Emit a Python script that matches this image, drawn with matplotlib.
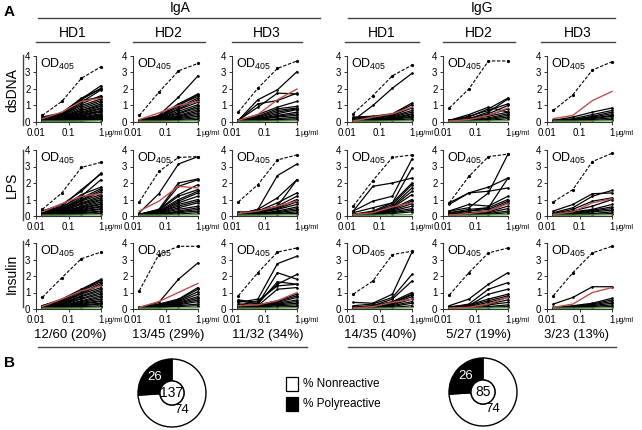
import matplotlib
matplotlib.use("Agg")
import matplotlib.pyplot as plt
from matplotlib.lines import Line2D
from matplotlib.patches import Wedge, Circle, Rectangle

plt.rcParams['font.family'] = ['Liberation Sans', 'DejaVu Sans']

# ---------------- data ----------------
conc = [0.0156, 0.0625, 0.25, 1.0]
isotypes = ["IgA", "IgG"]
donors = ["HD1", "HD2", "HD3"]
antigens = ["dsDNA", "LPS", "Insulin"]
fractions = ["12/60 (20%)", "13/45 (29%)", "11/32 (34%)",
             "14/35 (40%)", "5/27 (19%)", "3/23 (13%)"]

# positive control (dashed) per panel: IgA HD1..HD3, IgG HD1..HD3
pos_dsdna = [[0.4, 1.25, 2.65, 3.35], [0.4, 1.8, 3.1, 3.55], [0.6, 2.05, 3.25, 3.7],
             [0.5, 1.6, 2.8, 3.45], [0.85, 2.0, 3.7, 3.7], [0.7, 1.65, 3.15, 3.65]]
pos_lps = [[0.4, 1.4, 2.95, 3.25], [0.85, 2.7, 3.55, 3.6], [0.85, 1.9, 3.4, 3.7],
           [0.6, 2.15, 3.55, 3.7], [0.8, 2.4, 3.6, 3.75], [0.85, 1.6, 3.3, 3.8]]
pos_insulin = [[0.7, 1.9, 3.05, 3.45], [1.1, 3.3, 3.8, 3.8], [0.8, 2.2, 3.45, 3.7],
               [0.9, 1.7, 3.3, 3.5], [0.85, 2.2, 3.4, 3.7], [0.8, 2.2, 3.4, 3.8]]

# red reference line
red_dsdna = [[0.2, 0.6, 1.25, 1.45], [0.15, 0.55, 1.0, 1.25], [0.1, 0.45, 1.35, 2.0],
             [0.05, 0.3, 0.5, 0.9], [0.05, 0.15, 0.4, 0.85], [0.2, 0.4, 1.3, 1.85]]
red_lps = [[0.25, 0.75, 1.2, 1.35], [0.3, 0.9, 1.8, 1.7], [0.15, 0.3, 0.6, 0.9],
           [0.1, 0.2, 0.55, 0.8], [0.05, 0.15, 0.3, 0.75], [0.1, 0.25, 0.8, 1.05]]
red_insulin = [[0.15, 0.6, 1.1, 1.4], [0.1, 0.45, 1.0, 1.55], [0.2, 0.25, 0.5, 1.0],
               [0.05, 0.15, 0.4, 0.6], [0.05, 0.1, 0.3, 0.7], [0.1, 0.3, 1.0, 1.3]]

# green negative control
neg_ctrl = [0.05, 0.05, 0.06, 0.08]

# clones
clones_dsdna = [
    [[0.30,0.55,1.40,2.20],[0.25,0.50,1.35,2.05],[0.20,0.55,1.45,2.00],[0.20,0.45,1.20,1.95],
     [0.15,0.40,1.10,1.60],[0.20,0.45,1.30,1.50],[0.15,0.40,1.00,1.40],[0.10,0.35,0.90,1.30],
     [0.10,0.30,0.80,1.20],[0.10,0.30,0.70,1.10],[0.10,0.25,0.70,1.00],[0.10,0.25,0.60,0.95],
     [0.10,0.20,0.55,0.85],[0.10,0.20,0.50,0.80],[0.05,0.20,0.45,0.70],[0.05,0.15,0.40,0.65],
     [0.05,0.15,0.35,0.60],[0.05,0.15,0.30,0.50],[0.05,0.10,0.25,0.45],[0.05,0.10,0.20,0.40],
     [0.05,0.10,0.20,0.35],[0.05,0.10,0.15,0.30],[0.05,0.08,0.12,0.25],[0.05,0.08,0.10,0.20],
     [0.05,0.06,0.08,0.15],[0.05,0.05,0.07,0.10]],
    [[0.10,0.40,1.50,2.80],[0.10,0.35,1.10,1.70],[0.10,0.35,1.00,1.65],[0.05,0.30,1.05,1.55],
     [0.05,0.30,0.90,1.45],[0.05,0.25,0.80,1.35],[0.05,0.25,0.75,1.20],[0.05,0.20,0.65,1.05],
     [0.05,0.20,0.55,0.95],[0.05,0.15,0.50,0.85],[0.05,0.15,0.40,0.75],[0.05,0.15,0.35,0.65],
     [0.05,0.10,0.30,0.55],[0.05,0.10,0.25,0.45],[0.05,0.10,0.20,0.35],[0.05,0.08,0.15,0.25],
     [0.05,0.06,0.10,0.15]],
    [[0.10,1.35,1.95,3.05],[0.10,1.10,1.30,1.75],[0.10,0.90,1.75,1.70],[0.10,0.45,0.90,1.25],
     [0.10,0.35,0.80,0.95],[0.10,0.30,0.70,0.85],[0.10,0.25,0.60,0.80],[0.05,0.20,0.50,0.75],
     [0.05,0.20,0.40,0.60],[0.05,0.15,0.35,0.50],[0.05,0.15,0.30,0.40],[0.05,0.10,0.20,0.30],
     [0.05,0.10,0.15,0.20],[0.05,0.08,0.10,0.12]],
    [[0.10,1.00,2.05,2.95],[0.30,0.35,0.50,1.15],[0.25,0.30,0.45,1.05],[0.20,0.25,0.40,0.85],
     [0.10,0.20,0.35,0.70],[0.10,0.15,0.30,0.60],[0.05,0.15,0.25,0.50],[0.05,0.10,0.20,0.45],
     [0.05,0.10,0.20,0.35],[0.05,0.08,0.15,0.30],[0.05,0.08,0.12,0.20],[0.05,0.06,0.10,0.12]],
    [[0.10,0.45,0.90,0.60],[0.10,0.30,0.80,1.45],[0.10,0.20,0.60,1.40],[0.10,0.35,0.70,1.10],
     [0.05,0.20,0.50,1.00],[0.05,0.15,0.40,0.80],[0.05,0.15,0.35,0.60],[0.05,0.10,0.25,0.50],
     [0.05,0.10,0.20,0.40],[0.05,0.08,0.15,0.30],[0.05,0.06,0.10,0.20]],
    [[0.10,0.30,0.60,0.85],[0.10,0.20,0.45,0.70],[0.05,0.15,0.35,0.60],[0.05,0.15,0.30,0.50],
     [0.05,0.10,0.25,0.40],[0.05,0.10,0.20,0.35],[0.05,0.08,0.15,0.25],[0.05,0.06,0.10,0.15]],
]
clones_lps = [
    [[0.30,0.70,1.50,2.60],[0.25,0.60,1.60,2.55],[0.20,0.55,1.20,2.20],[0.20,0.50,1.30,1.75],
     [0.20,0.45,1.10,1.65],[0.15,0.45,1.00,1.55],[0.15,0.40,0.95,1.45],[0.15,0.35,0.90,1.30],
     [0.10,0.35,0.80,1.20],[0.10,0.30,0.75,1.10],[0.10,0.30,0.70,1.00],[0.10,0.25,0.60,0.95],
     [0.10,0.25,0.55,0.85],[0.10,0.20,0.50,0.75],[0.05,0.20,0.45,0.70],[0.05,0.15,0.40,0.60],
     [0.05,0.15,0.35,0.55],[0.05,0.12,0.30,0.45],[0.05,0.10,0.25,0.40],[0.05,0.10,0.20,0.30],
     [0.05,0.08,0.15,0.25],[0.05,0.06,0.10,0.15]],
    [[0.20,1.35,3.15,3.60],[0.10,0.40,2.00,2.25],[0.10,0.35,1.80,2.20],[0.10,0.40,1.30,1.90],
     [0.10,0.35,1.20,1.60],[0.05,0.30,1.00,1.50],[0.05,0.25,0.90,1.40],[0.05,0.25,0.80,1.20],
     [0.05,0.20,0.70,1.00],[0.05,0.20,0.60,0.90],[0.05,0.15,0.50,0.80],[0.05,0.15,0.40,0.60],
     [0.05,0.10,0.30,0.50],[0.05,0.10,0.25,0.40],[0.05,0.08,0.20,0.30],[0.05,0.06,0.12,0.20]],
    [[0.10,0.40,2.45,3.15],[0.10,0.40,1.10,2.20],[0.10,0.30,0.60,2.20],[0.10,0.30,0.80,1.40],
     [0.10,0.30,0.60,1.20],[0.10,0.25,0.50,1.00],[0.25,0.25,0.45,0.85],[0.05,0.20,0.40,0.70],
     [0.05,0.15,0.30,0.55],[0.05,0.15,0.25,0.45],[0.05,0.10,0.20,0.35],[0.05,0.10,0.15,0.25],
     [0.05,0.08,0.12,0.15]],
    [[0.30,0.90,1.20,3.45],[0.30,1.80,2.00,2.30],[0.20,0.50,0.80,2.90],[0.10,0.30,0.80,2.00],
     [0.10,0.25,0.70,1.90],[0.10,0.20,0.60,1.70],[0.10,0.20,0.55,1.50],[0.10,0.20,0.50,1.30],
     [0.05,0.15,0.45,1.00],[0.05,0.15,0.40,0.90],[0.05,0.10,0.35,0.75],[0.05,0.10,0.30,0.60],
     [0.05,0.10,0.25,0.45],[0.05,0.08,0.20,0.35],[0.05,0.06,0.15,0.25]],
    [[0.80,1.40,1.50,1.70],[0.70,1.40,1.75,2.30],[0.30,0.50,1.40,3.75],[0.20,0.30,0.50,2.30],
     [0.30,0.70,0.60,1.20],[0.20,0.40,0.50,1.00],[0.10,0.30,0.40,0.90],[0.10,0.20,0.30,0.80],
     [0.05,0.15,0.25,0.60],[0.05,0.10,0.20,0.45],[0.05,0.10,0.15,0.30],[0.05,0.08,0.10,0.20]],
    [[0.30,0.70,1.35,1.40],[0.20,0.50,1.20,1.55],[0.15,0.40,0.90,1.10],[0.10,0.30,0.60,1.00],
     [0.10,0.25,0.40,0.70],[0.05,0.20,0.35,0.55],[0.05,0.15,0.30,0.45],[0.05,0.10,0.25,0.35],
     [0.05,0.10,0.15,0.25],[0.05,0.06,0.10,0.15]],
]
clones_insulin = [
    [[0.20,0.60,1.20,1.80],[0.20,0.55,1.15,1.75],[0.15,0.50,1.10,1.65],[0.15,0.45,1.00,1.55],
     [0.15,0.40,0.95,1.45],[0.10,0.40,0.90,1.30],[0.10,0.35,0.80,1.20],[0.10,0.30,0.75,1.10],
     [0.10,0.30,0.65,1.00],[0.10,0.25,0.60,0.90],[0.10,0.20,0.50,0.80],[0.05,0.20,0.45,0.70],
     [0.05,0.15,0.40,0.60],[0.05,0.15,0.35,0.50],[0.05,0.12,0.30,0.45],[0.05,0.10,0.25,0.35],
     [0.05,0.10,0.20,0.30],[0.05,0.08,0.15,0.20],[0.05,0.06,0.10,0.12]],
    [[0.10,0.40,1.80,2.80],[0.10,0.30,0.60,1.30],[0.10,0.25,0.55,1.20],[0.05,0.20,0.50,1.05],
     [0.05,0.20,0.45,0.90],[0.05,0.15,0.40,0.75],[0.05,0.15,0.35,0.65],[0.05,0.10,0.30,0.55],
     [0.05,0.10,0.25,0.45],[0.05,0.10,0.20,0.30],[0.05,0.08,0.15,0.20]],
    [[0.40,0.60,2.75,3.20],[0.50,0.30,2.20,1.80],[0.55,0.40,1.50,2.10],[0.30,0.30,1.65,1.50],
     [0.20,0.50,1.40,1.50],[0.10,0.20,1.20,1.30],[0.10,0.25,0.50,0.90],[0.10,0.20,0.45,0.80],
     [0.05,0.20,0.40,0.70],[0.05,0.15,0.35,0.55],[0.05,0.15,0.30,0.45],[0.05,0.10,0.25,0.35],
     [0.05,0.10,0.20,0.25],[0.05,0.06,0.12,0.15]],
    [[0.40,0.35,0.90,3.45],[0.20,0.30,0.70,2.10],[0.10,0.20,0.60,1.70],[0.10,0.20,0.45,1.00],
     [0.10,0.15,0.40,0.90],[0.05,0.15,0.35,0.85],[0.05,0.10,0.30,0.75],[0.05,0.10,0.25,0.60],
     [0.05,0.10,0.20,0.45],[0.05,0.08,0.15,0.35],[0.05,0.06,0.10,0.20]],
    [[0.20,0.60,1.50,2.20],[0.10,0.30,1.20,1.60],[0.15,0.20,0.90,1.20],[0.10,0.25,0.60,0.90],
     [0.10,0.20,0.50,0.80],[0.05,0.15,0.40,0.70],[0.05,0.10,0.30,0.55],[0.05,0.10,0.25,0.40],
     [0.05,0.08,0.15,0.25],[0.05,0.06,0.10,0.15]],
    [[0.30,0.70,1.35,1.35],[0.10,0.20,0.35,0.65],[0.05,0.15,0.30,0.55],[0.05,0.15,0.25,0.45],
     [0.05,0.10,0.20,0.35],[0.05,0.10,0.15,0.25],[0.05,0.06,0.10,0.15]],
]

# pie data (panel B)
pie_totals = [137, 85]
poly_pct = [26, 26]
nonreact_pct = [74, 74]

pos_rows = [pos_dsdna, pos_lps, pos_insulin]
red_rows = [red_dsdna, red_lps, red_insulin]
clone_rows = [clones_dsdna, clones_lps, clones_insulin]

# ---------------- layout ----------------
W, H = 642, 430
fig = plt.figure(figsize=(W / 100, H / 100), dpi=100)

def fx(x):
    return x / W

def fy(y):
    return 1 - y / H

def hline(x0, x1, y, lw=1.0, color='#444444'):
    fig.add_artist(Line2D([fx(x0), fx(x1)], [fy(y), fy(y)], color=color, lw=lw,
                          transform=fig.transFigure))

def vline(x, y0, y1, lw=1.0, color='#444444'):
    fig.add_artist(Line2D([fx(x), fx(x)], [fy(y0), fy(y1)], color=color, lw=lw,
                          transform=fig.transFigure))

col_left = [36, 133, 232, 347, 443, 547]
row_top = [56, 150, 243]
pw, ph = 65, 66

for r in range(3):
    for c in range(6):
        ax = fig.add_axes([fx(col_left[c]), fy(row_top[r] + ph), fx(pw), ph / H])
        ax.set_xscale('log')
        ax.set_xlim(0.01, 1.0)
        ax.set_ylim(0, 4)
        for line in clone_rows[r][c]:
            ax.plot(conc, line, color='black', lw=0.9, marker='o', ms=0.9,
                    clip_on=False, zorder=2)
        ax.plot(conc, neg_ctrl, color='#5a9e48', lw=1.0, clip_on=False, zorder=3)
        ax.plot(conc, red_rows[r][c], color='#c0504d', lw=1.0,
                clip_on=False, zorder=3)
        ax.plot(conc, pos_rows[r][c], color='black', lw=0.8, ls=(0, (3, 1.5)),
                marker='o', ms=1.3, clip_on=False, zorder=4)
        for s in ['top', 'right']:
            ax.spines[s].set_visible(False)
        for s in ['left', 'bottom']:
            ax.spines[s].set_linewidth(0.8)
            ax.spines[s].set_color('#333333')
        ax.set_yticks([0, 1, 2, 3, 4])
        ax.set_xticks([0.01, 0.1, 1])
        ax.set_xticklabels(["0.01", "0.1", "1"])
        ax.xaxis.set_minor_locator(plt.NullLocator())
        ax.tick_params(axis='both', which='major', length=2.5, width=0.7,
                       labelsize=7, pad=1.5, color='#333333')
        ax.annotate("μg/ml", xy=(1.0, 0), xycoords=('data', 'axes fraction'),
                    xytext=(2.2, -8.0), textcoords='offset points',
                    fontsize=5.3, ha='left', va='center')
        ax.text(0.013, 3.95, r"OD$_{\mathregular{405}}$", fontsize=9, ha='left', va='top')

# panel labels
fig.text(fx(4), fy(12), "A", fontsize=11, fontweight='bold', ha='left', va='center')
fig.text(fx(4), fy(363), "B", fontsize=11, fontweight='bold', ha='left', va='center')

# isotype headers
fig.text(fx(180), fy(8), isotypes[0], fontsize=10, ha='center', va='center')
hline(38, 320, 18)
fig.text(fx(482), fy(8), isotypes[1], fontsize=10, ha='center', va='center')
hline(348, 615, 18)

# donor headers
donor_spans = [(36, 109), (133, 205), (232, 302), (345, 419), (443, 515), (541, 615)]
for c, (a, b) in enumerate(donor_spans):
    fig.text(fx((a + b) / 2), fy(33), donors[c % 3], fontsize=10, ha='center', va='center')
    hline(a, b, 42)

# antigen row labels
row_spans = [(55, 125), (150, 220), (241, 307)]
for r, (a, b) in enumerate(row_spans):
    fig.text(fx(12), fy((a + b) / 2), antigens[r], fontsize=10, rotation=90,
             ha='center', va='center')
    vline(23, a, b)

# fractions
frac_x = [70, 168, 268, 380, 478, 576]
for c in range(6):
    fig.text(fx(frac_x[c]), fy(335), fractions[c], fontsize=9.5, ha='center', va='center')
hline(38, 307, 347)
hline(348, 616, 347)

# donuts
pie_centers = [(172, 393), (483, 392)]
R_out, R_in = 34, 12
for i, (cx, cy) in enumerate(pie_centers):
    pax = fig.add_axes([fx(cx - 40), fy(cy + 40), fx(80), 80 / H])
    pax.set_xlim(-40, 40)
    pax.set_ylim(-40, 40)
    pax.set_aspect('equal')
    pax.axis('off')
    poly_angle = poly_pct[i] / 100 * 360
    pax.add_patch(Wedge((0, 0), R_out, 90 + poly_angle, 90 + 360, width=R_out - R_in,
                        facecolor='white', edgecolor='black', lw=1.0))
    pax.add_patch(Wedge((0, 0), R_out, 90, 90 + poly_angle, width=R_out - R_in,
                        facecolor='black', edgecolor='black', lw=1.0))
    pax.add_patch(Circle((0, 0), R_in, facecolor='white', edgecolor='black', lw=1.0))
    pax.text(0, 0, str(pie_totals[i]), fontsize=10, ha='center', va='center')
    pax.text(-17, 16, str(poly_pct[i]), fontsize=9.5, color='white', ha='center', va='center')
    pax.text(10, -17, str(nonreact_pct[i]), fontsize=9.5, color='black', ha='center', va='center')

# legend
lax = fig.add_axes([0, 0, 1, 1], facecolor='none')
lax.set_xlim(0, W)
lax.set_ylim(H, 0)
lax.axis('off')
lax.add_patch(Rectangle((286, 377), 12, 14, facecolor='white', edgecolor='black', lw=0.9))
lax.add_patch(Rectangle((286, 397), 12, 14, facecolor='black', edgecolor='black', lw=0.9))
lax.text(303, 384, "% Nonreactive", fontsize=8.5, ha='left', va='center')
lax.text(303, 404, "% Polyreactive", fontsize=8.5, ha='left', va='center')

fig.savefig("out.png", dpi=100)
